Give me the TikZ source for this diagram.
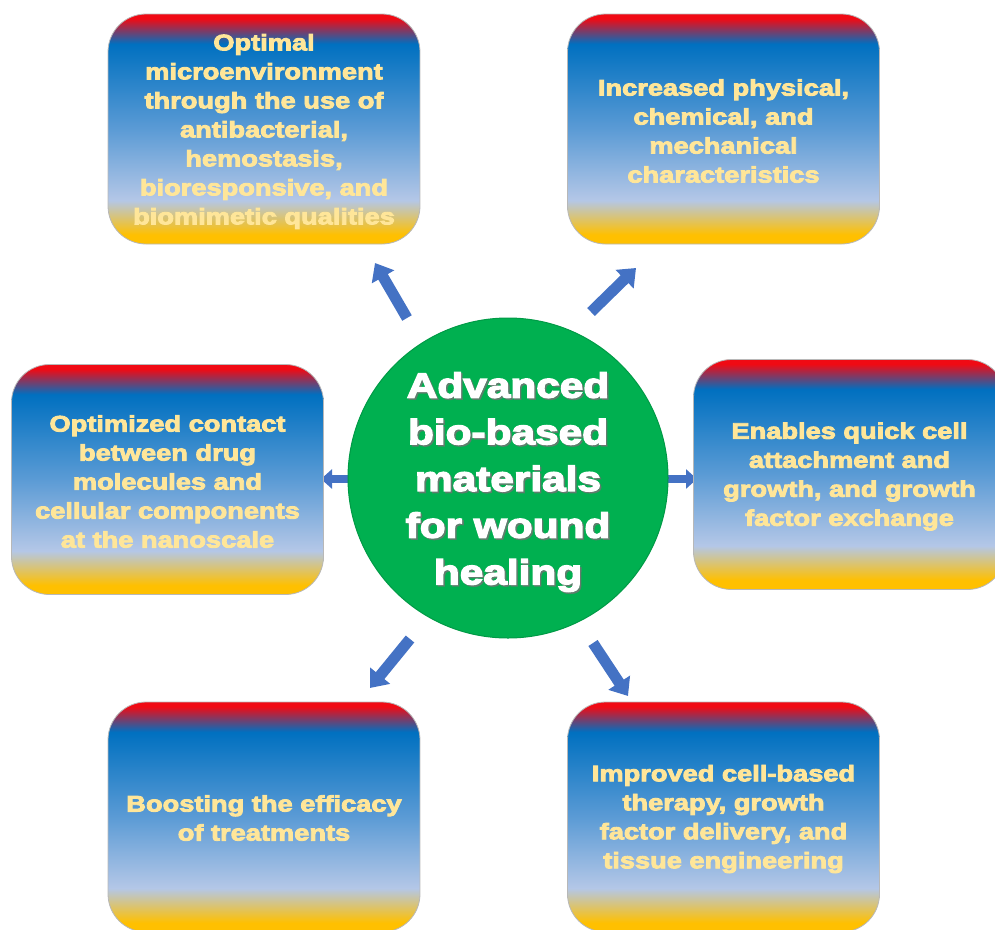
\documentclass[tikz,border=0pt]{standalone}
\usepackage{fontspec}
\usetikzlibrary{arrows.meta}

\newfontfamily\boxfont[FakeStretch=1.21,FakeBold=4]{Liberation Sans Bold}

\definecolor{gy}{HTML}{FFC000}
\definecolor{gp}{HTML}{B4C7E7}
\definecolor{gm}{HTML}{5B9BD5}
\definecolor{gb}{HTML}{0070C0}
\definecolor{gr}{HTML}{F00A14}
\definecolor{txt}{HTML}{FFE699}
\definecolor{grn}{HTML}{00B050}
\definecolor{grnedge}{HTML}{009A46}
\definecolor{arr}{HTML}{4472C4}

% gold at the bottom, pale blue, deep blue, red band on top
\pgfdeclareverticalshading{boxgrad}{100bp}{%
  color(0bp)=(gy); color(27bp)=(gy); color(34.5bp)=(gp);
  color(50bp)=(gm); color(68.5bp)=(gb); color(74bp)=(gr); color(100bp)=(gr)}

\begin{document}
\begin{tikzpicture}[x=1pt,y=-1pt,
  card/.style={rectangle, rounded corners=38pt, minimum width=312pt,
    minimum height=230pt, inner sep=0pt, draw=black!28, line width=0.8pt,
    shade, shading=boxgrad},
  cardtext/.style={text=txt, align=center, inner sep=0pt,
    font=\boxfont\fontsize{22.5}{29}\selectfont},
  hub/.style={circle, fill=grn, draw=grnedge, line width=1pt,
    minimum size=320pt, inner sep=0pt},
  hubtext/.style={align=center, inner sep=0pt,
    font=\boxfont\fontsize{35}{46.7}\selectfont},
  flow/.style={draw=arr, line width=11pt, -{Triangle[width=25pt,length=16pt]}},
  sideflow/.style={draw=arr, line width=8pt, -{Triangle[width=19pt,length=11pt]}}]

\useasboundingbox (0,0) rectangle (995,929);
\clip (0,0) rectangle (995,929);

% arrow end points
\coordinate (ul0) at (407,318);   \coordinate (ul1) at (375,263);
\coordinate (ur0) at (591,312);   \coordinate (ur1) at (636,268);
\coordinate (ml0) at (356,479);   \coordinate (ml1) at (321,479);
\coordinate (mr0) at (660,479);   \coordinate (mr1) at (697,479);
\coordinate (ll0) at (410,639);   \coordinate (ll1) at (370,688);
\coordinate (lr0) at (593,643);   \coordinate (lr1) at (628,696);

\draw[flow] (ul0) -- (ul1);
\draw[flow] (ur0) -- (ur1);
\draw[sideflow] (ml0) -- (ml1);
\draw[sideflow] (mr0) -- (mr1);
\draw[flow] (ll0) -- (ll1);
\draw[flow] (lr0) -- (lr1);

% central hub
\node[hub] (hub) at (508,478) {};
\node[hubtext, text=black!55, opacity=0.7] (hubshadow) at (509.6,483.6)
  {Advanced\\bio-based\\materials\\for wound\\healing};
\node[hubtext, text=white] (hubtxt) at (508,482)
  {Advanced\\bio-based\\materials\\for wound\\healing};

% outcome cards
\node[card] (tl) at (264,129) {};
\node[card] (tr) at (723.5,129) {};
\node[card] (ml) at (167.5,479.5) {};
\node[card] (mr) at (849.5,474.5) {};
\node[card] (bl) at (264,817) {};
\node[card] (br) at (723.5,817) {};

\node[cardtext] (tltxt) at ([yshift=-2.5pt]tl.center)
  {Optimal\\microenvironment\\through the use of\\antibacterial,\\hemostasis,\\bioresponsive, and\\biomimetic qualities};
\node[cardtext] (trtxt) at ([yshift=-2pt]tr.center)
  {Increased physical,\\chemical, and\\mechanical\\characteristics};
\node[cardtext] (mltxt) at ([yshift=-2pt]ml.center)
  {Optimized contact\\between drug\\molecules and\\cellular components\\at the nanoscale};
\node[cardtext] (mrtxt) at ([yshift=-2pt]mr.center)
  {Enables quick cell\\attachment and\\growth, and growth\\factor exchange};
\node[cardtext] (bltxt) at ([yshift=-1pt]bl.center)
  {Boosting the efficacy\\of treatments};
\node[cardtext] (brtxt) at ([yshift=-2pt]br.center)
  {Improved cell-based\\therapy, growth\\factor delivery, and\\tissue engineering};

\end{tikzpicture}
\end{document}
